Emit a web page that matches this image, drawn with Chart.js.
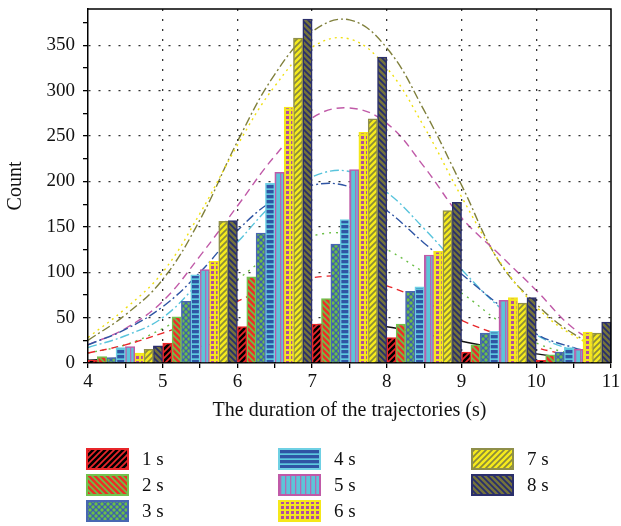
<!DOCTYPE html>
<html>
<head>
<meta charset="utf-8">
<script src="https://cdn.jsdelivr.net/npm/chart.js@4.4.0/dist/chart.umd.min.js"></script>
<style>
  html, body { margin: 0; padding: 0; background: #fff; }
  #wrap { position: relative; width: 621px; height: 526px; }
  #wrap canvas { position: absolute; left: 0; top: 0; }
</style>
</head>
<body>
<div id="wrap">
  <canvas id="fitChart" width="621" height="526"></canvas>
  <canvas id="histChart" width="621" height="526"></canvas>
</div>
<script>
// duration bins (one group of bars per bin) and the per-series counts
const binLabels = ["4-5", "5-6", "6-7", "7-8", "8-9", "9-10", "10-11"];
const seriesNames = ["1 s", "2 s", "3 s", "4 s", "5 s", "6 s", "7 s", "8 s"];

const count1s = [3, 22, 40, 43, 28, 12, 3];
const count2s = [7, 51, 95, 71, 43, 20, 9];
const count3s = [6, 68, 143, 131, 79, 33, 12];
const count4s = [17, 97, 198, 158, 84, 35, 17];
const count5s = [18, 103, 210, 213, 119, 69, 15];
const count6s = [11, 112, 282, 254, 123, 72, 34];
const count7s = [15, 156, 358, 269, 168, 66, 33];
const count8s = [19, 157, 379, 337, 177, 72, 45];

// fitted curves, sampled along the duration axis
const fitX = [4, 4.5, 5, 5.5, 6, 6.5, 7, 7.5, 8, 8.5, 9, 9.5, 10, 10.5, 11];
const fit1s = [3, 6, 11, 18, 27, 36, 42, 43, 40, 32, 24, 16, 10, 5, 2];
const fit2s = [11, 20, 33, 48, 68, 85, 94, 95, 85, 68, 47, 31, 17, 8, 3];
const fit3s = [11, 20, 38, 62, 92, 122, 140, 142, 125, 100, 77, 46, 22, 10, 4];
const fit4s = [20, 37, 62, 100, 146, 180, 196, 194, 168, 132, 98, 64, 32, 17, 7];
const fit5s = [17, 30, 50, 90, 133, 177, 205, 211, 188, 148, 103, 62, 31, 14, 5];
const fit6s = [20, 38, 68, 118, 173, 228, 270, 281, 264, 216, 160, 120, 80, 38, 15];
const fit7s = [28, 60, 100, 165, 240, 305, 348, 357, 325, 260, 183, 113, 62, 30, 12];
const fit8s = [25, 53, 92, 158, 244, 318, 365, 378, 347, 278, 196, 112, 65, 32, 13];

const counts = [count1s, count2s, count3s, count4s, count5s, count6s, count7s, count8s];
const fits = [fit1s, fit2s, fit3s, fit4s, fit5s, fit6s, fit7s, fit8s];

const serif = "'Liberation Serif', 'Times New Roman', serif";
const yMax = 390;

// both canvases share the same plot box
const layoutPadding = { top: 9, right: 10, bottom: 103, left: 0 };
const fixWidth = s => { s.width = 88; s.paddingTop = 0; s.paddingBottom = 0; };
const fixHeight = s => { s.height = 60; s.paddingLeft = 0; s.paddingRight = 0; };

function tile(w, h, paint) {
  const c = document.createElement("canvas");
  c.width = w;
  c.height = h;
  paint(c.getContext("2d"));
  return document.createElement("canvas").getContext("2d").createPattern(c, "repeat");
}

function diagonal(bg, fg, rising) {
  return tile(6, 6, g => {
    g.fillStyle = bg;
    g.fillRect(0, 0, 6, 6);
    g.strokeStyle = fg;
    g.lineWidth = 1.7;
    g.beginPath();
    for (const o of [-6, 0, 6]) {
      if (rising) { g.moveTo(o - 1, 7); g.lineTo(o + 7, -1); }
      else { g.moveTo(o - 1, -1); g.lineTo(o + 7, 7); }
    }
    g.stroke();
  });
}

const fills = [
  diagonal("#000000", "#e8262a", true),
  diagonal("#ec2f26", "#6cbf48", false),
  tile(6, 6, g => {
    g.fillStyle = "#3d5fae";
    g.fillRect(0, 0, 6, 6);
    g.fillStyle = "#6cbf48";
    for (const [cx, cy] of [[0, 0], [6, 0], [0, 6], [6, 6], [3, 3]]) {
      g.beginPath();
      g.arc(cx, cy, 1.7, 0, Math.PI * 2);
      g.fill();
    }
  }),
  tile(5, 5, g => {
    g.fillStyle = "#2f55a4";
    g.fillRect(0, 0, 5, 5);
    g.fillStyle = "#5cc8de";
    g.fillRect(0, 3.3, 5, 1.7);
  }),
  tile(5, 5, g => {
    g.fillStyle = "#5cc5d8";
    g.fillRect(0, 0, 5, 5);
    g.fillStyle = "#b468b4";
    g.fillRect(0, 0, 1.3, 5);
  }),
  tile(5, 5, g => {
    g.fillStyle = "#f3e61e";
    g.fillRect(0, 0, 5, 5);
    g.fillStyle = "#b04ca0";
    g.fillRect(1, 1, 3, 3);
  }),
  diagonal("#f5ea1c", "#8a8a3c", true),
  diagonal("#75733c", "#262d6e", false)
];
const edges = ["#e8262a", "#72c24e", "#4967b2", "#6fd0e4", "#c05aa8", "#f5e81a", "#8f8f4a", "#2b2f6b"];

const curveColors = ["#111111", "#e8262a", "#6cbf48", "#2f55a4", "#58c4dc", "#c05aa8", "#f0e010", "#80803c"];
const curveDash = [[], [7, 5], [2, 5], [9, 3, 2, 3], [9, 3, 2, 3], [8, 5], [2, 4], [9, 3, 2, 3]];

// legend in three columns under the axis
const legendCols = [87, 279, 472];
const legendTop = 449;
const gridLegend = {
  id: "gridLegend",
  afterDraw(chart) {
    const ctx = chart.ctx;
    chart.data.datasets.forEach((ds, i) => {
      const x = legendCols[Math.floor(i / 3)];
      const y = legendTop + (i % 3) * 26;
      ctx.save();
      ctx.fillStyle = ds.backgroundColor;
      ctx.fillRect(x, y, 41, 20);
      ctx.strokeStyle = ds.borderColor;
      ctx.lineWidth = 2;
      ctx.strokeRect(x, y, 41, 20);
      ctx.fillStyle = "#111";
      ctx.font = "19px " + serif;
      ctx.textBaseline = "middle";
      ctx.fillText(ds.label, x + 55, y + 11);
      ctx.restore();
    });
  }
};

// closes the plot box on the top and right
const frame = {
  id: "frame",
  afterDatasetsDraw(chart) {
    const { left, top, right, bottom } = chart.chartArea;
    const ctx = chart.ctx;
    ctx.save();
    ctx.strokeStyle = "#000";
    ctx.lineWidth = 1.5;
    ctx.beginPath();
    ctx.moveTo(left, top);
    ctx.lineTo(right, top);
    ctx.lineTo(right, bottom);
    ctx.stroke();
    ctx.restore();
  }
};

// fitted curves go on the lower canvas so the bars cover them
new Chart(document.getElementById("fitChart"), {
  type: "line",
  data: {
    datasets: fits.map((vals, i) => ({
      label: seriesNames[i],
      data: fitX.map((x, k) => ({ x, y: vals[k] })),
      borderColor: curveColors[i],
      borderDash: curveDash[i],
      borderWidth: 1.4,
      pointRadius: 0,
      tension: 0.4,
      fill: false
    }))
  },
  options: {
    responsive: false,
    animation: false,
    devicePixelRatio: 1,
    layout: { padding: layoutPadding },
    plugins: { legend: { display: false }, tooltip: { enabled: false } },
    scales: {
      x: {
        type: "linear",
        min: 4,
        max: 11,
        offset: false,
        grid: { display: false },
        border: { display: false },
        ticks: { display: false },
        afterFit: fixHeight
      },
      y: {
        min: 0,
        max: yMax,
        grid: { display: false },
        border: { display: false },
        ticks: { display: false },
        afterFit: fixWidth
      }
    }
  }
});

new Chart(document.getElementById("histChart"), {
  type: "bar",
  data: {
    labels: binLabels,
    datasets: counts.map((vals, i) => ({
      label: seriesNames[i],
      data: vals,
      backgroundColor: fills[i],
      borderColor: edges[i],
      borderWidth: 1.5,
      categoryPercentage: 1,
      barPercentage: 1
    }))
  },
  plugins: [frame, gridLegend],
  options: {
    responsive: false,
    animation: false,
    devicePixelRatio: 1,
    layout: { padding: layoutPadding },
    plugins: { legend: { display: false }, tooltip: { enabled: false } },
    scales: {
      x: {
        type: "category",
        display: false,
        offset: true
      },
      x2: {
        type: "linear",
        position: "bottom",
        min: 4,
        max: 11,
        offset: false,
        border: { color: "#000", width: 1.5, dash: [2, 8] },
        grid: {
          offset: false,
          color: c => (c.tick && Number.isInteger(c.tick.value) && c.tick.value > 4 && c.tick.value < 11) ? "#333" : "transparent",
          lineWidth: 1.3,
          tickColor: "#000",
          tickWidth: 1.3,
          tickLength: 5
        },
        ticks: {
          stepSize: 0.5,
          autoSkip: false,
          maxRotation: 0,
          padding: 3,
          color: "#111",
          font: { family: serif, size: 19 },
          callback: v => Number.isInteger(v) ? v : ""
        },
        title: {
          display: true,
          text: "The duration of the trajectories (s)",
          color: "#111",
          font: { family: serif, size: 20 },
          padding: { top: 0, bottom: 0 }
        },
        afterFit: fixHeight
      },
      y: {
        min: 0,
        max: yMax,
        border: { color: "#000", width: 1.5, dash: [2, 8] },
        grid: {
          color: c => (c.tick && c.tick.value % 50 === 0 && c.tick.value > 0) ? "#333" : "transparent",
          lineWidth: 1.3,
          tickColor: "#000",
          tickWidth: 1.3,
          tickLength: 5
        },
        ticks: {
          stepSize: 25,
          includeBounds: false,
          autoSkip: false,
          padding: 8,
          color: "#111",
          font: { family: serif, size: 19 },
          callback: v => v % 50 === 0 ? v : ""
        },
        title: {
          display: true,
          text: "Count",
          color: "#111",
          font: { family: serif, size: 20 },
          padding: { top: 4, bottom: 0 }
        },
        afterFit: fixWidth
      }
    }
  }
});
</script>
</body>
</html>
